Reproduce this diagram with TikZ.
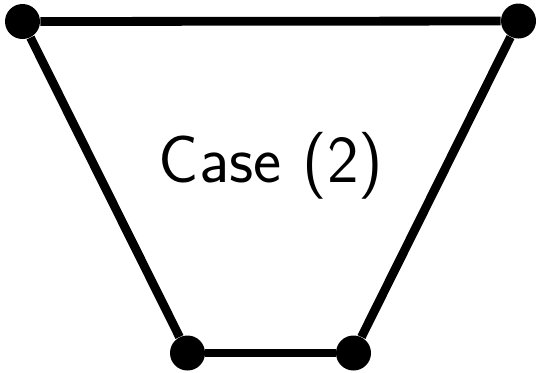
\documentclass[tikz,border=0pt]{standalone}
\usepackage{tikz}
\tikzset{
  vertex/.style={circle,fill=black,inner sep=0pt,minimum size=17.5pt},
  edge/.style={line width=4.4pt,black},
  caselabel/.style={font=\sffamily\fontsize{33.5}{40}\selectfont,inner sep=0pt}
}

\begin{document}
\begin{tikzpicture}[x=0.5pt,y=-0.5pt]
      \useasboundingbox (0,0) rectangle (536,372);
      \node[vertex] (tl) at (22.5,21.5) {};
      \node[vertex] (tr) at (518.5,21) {};
      \node[vertex] (bl) at (187.5,353) {};
      \node[vertex] (br) at (353.5,353) {};
      \node[caselabel,anchor=base] (label) at (271,182) {Case (2)};
      \draw[edge] (tl) -- (tr);
      \draw[edge] (tr) -- (br);
      \draw[edge] (br) -- (bl);
      \draw[edge] (bl) -- (tl);
    \end{tikzpicture}
\end{document}
